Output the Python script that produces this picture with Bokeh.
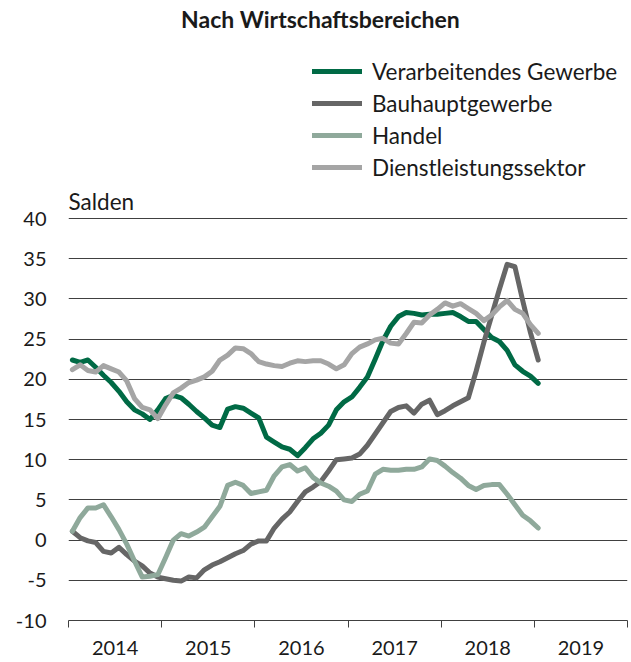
from bokeh.plotting import figure
from bokeh.models import Range1d, FixedTicker, Legend, LegendItem, Label
from bokeh.embed import file_html
from bokeh.resources import INLINE

# Monthly values, Jan 2014 .. Jan 2019 (Salden)
verarbeitendes = [22.4, 22.1, 22.4, 21.5, 20.5, 19.6, 18.5, 17.2, 16.2, 15.7, 15.0,
                  16.2, 17.6, 18.0, 17.7, 16.9, 16.0, 15.2, 14.3, 14.0, 16.3, 16.6, 16.4, 15.8,
                  15.2, 12.8, 12.2, 11.6, 11.3, 10.5, 11.5, 12.6, 13.3, 14.3, 16.2, 17.2,
                  17.8, 19.0, 20.3, 22.5, 24.8, 26.6, 27.8, 28.3, 28.2, 28.0, 28.1, 28.1,
                  28.2, 28.3, 27.8, 27.2, 27.2, 26.2, 25.2, 24.7, 23.6, 21.8, 21.0, 20.4, 19.5]
bauhaupt = [1.1, 0.3, -0.1, -0.3, -1.4, -1.6, -0.9, -1.8, -2.6, -3.2, -4.1,
            -4.6, -4.8, -5.0, -5.1, -4.6, -4.7, -3.7, -3.1, -2.7, -2.2, -1.7, -1.3, -0.5,
            -0.1, -0.1, 1.5, 2.6, 3.5, 4.8, 6.0, 6.6, 7.3, 8.6, 10.0, 10.1,
            10.2, 10.7, 11.8, 13.2, 14.6, 16.0, 16.5, 16.7, 15.8, 16.9, 17.4, 15.6,
            16.1, 16.7, 17.2, 17.7, 21.0, 24.6, 27.9, 31.2, 34.3, 34.0, 29.8, 25.8, 22.4]
handel = [1.1, 2.8, 4.0, 4.0, 4.4, 2.9, 1.3, -0.5, -2.6, -4.6, -4.5,
          -4.3, -2.2, 0.0, 0.8, 0.5, 1.0, 1.6, 2.9, 4.2, 6.8, 7.2, 6.8, 5.8,
          6.0, 6.2, 8.0, 9.1, 9.4, 8.6, 9.0, 7.8, 7.1, 6.7, 6.1, 5.0,
          4.8, 5.7, 6.1, 8.2, 8.8, 8.7, 8.7, 8.8, 8.8, 9.1, 10.1, 9.9,
          9.2, 8.4, 7.7, 6.8, 6.3, 6.8, 6.9, 6.9, 5.7, 4.4, 3.1, 2.4, 1.5]
dienstleistung = [21.2, 21.8, 21.1, 20.9, 21.7, 21.3, 20.9, 19.8, 17.6, 16.5, 16.2,
                  15.1, 16.8, 18.3, 18.9, 19.6, 19.9, 20.3, 21.0, 22.4, 23.0, 23.9, 23.8, 23.2,
                  22.2, 21.9, 21.7, 21.6, 22.0, 22.3, 22.2, 22.3, 22.3, 21.9, 21.3, 21.8,
                  23.2, 24.0, 24.4, 24.9, 25.1, 24.5, 24.4, 25.7, 27.1, 27.0, 28.0, 28.7,
                  29.5, 29.1, 29.4, 28.8, 28.2, 27.3, 28.0, 29.0, 29.8, 28.7, 28.2, 26.8, 25.7]

series_names = ["Verarbeitendes Gewerbe", "Bauhauptgewerbe", "Handel", "Dienstleistungssektor"]
series_colors = ["#006a45", "#666666", "#8fa99b", "#a5a5a5"]
years = ["2014", "2015", "2016", "2017", "2018", "2019"]
y_ticks = [-10, -5, 0, 5, 10, 15, 20, 25, 30, 35, 40]

FONT = "Lato"
TXT = "#1a1a1a"
GRID = "#404040"

x = [i + 0.5 for i in range(len(verarbeitendes))]  # mid-month positions, months since Jan 2014

# frame spans the full height above the axis so header texts/legend are not clipped;
# the value scale (-10..40 over 402 px) is kept, extra headroom above 40
FRAME_H = 620
PX_PER_UNIT = 402 / 50
y_top = -10 + FRAME_H / PX_PER_UNIT

p = figure(width=630, height=660, x_range=Range1d(0, 12 * len(years)), y_range=Range1d(-10, y_top),
           output_backend="svg", toolbar_location=None, title=None,
           min_border_left=68, min_border_right=3, min_border_top=0, min_border_bottom=40)
p.outline_line_color = None
p.background_fill_color = "white"
p.border_fill_color = "white"

p.xgrid.visible = False
p.ygrid.ticker = FixedTicker(ticks=y_ticks)
p.ygrid.grid_line_color = GRID
p.ygrid.grid_line_width = 1

# y axis
p.yaxis.ticker = FixedTicker(ticks=y_ticks)
p.yaxis.major_label_overrides = {t: str(t) for t in y_ticks}
p.yaxis.axis_line_color = None
p.yaxis.major_tick_line_color = None
p.yaxis.minor_tick_line_color = None
p.yaxis.major_tick_out = 0
p.yaxis.major_tick_in = 0
p.yaxis.major_label_standoff = 22
p.yaxis.major_label_text_font = FONT
p.yaxis.major_label_text_font_size = "20px"
p.yaxis.major_label_text_color = TXT

# x axis: labels at mid-year, tick marks at year boundaries
mid = [12 * k + 6 for k in range(len(years))]
bounds = [12 * k for k in range(len(years) + 1)]
p.xaxis.ticker = FixedTicker(ticks=mid, minor_ticks=bounds)
p.xaxis.major_label_overrides = {m: y for m, y in zip(mid, years)}
p.xaxis.axis_line_color = GRID
p.xaxis.axis_line_width = 1
p.xaxis.major_tick_line_color = None
p.xaxis.major_tick_out = 0
p.xaxis.major_tick_in = 0
p.xaxis.minor_tick_line_color = GRID
p.xaxis.minor_tick_out = 7
p.xaxis.minor_tick_in = 0
p.xaxis.major_label_standoff = 13
p.xaxis.major_label_text_font = FONT
p.xaxis.major_label_text_font_size = "20px"
p.xaxis.major_label_text_color = TXT

renderers = []
for name, vals, col in zip(series_names, [verarbeitendes, bauhaupt, handel, dienstleistung], series_colors):
    r = p.line(x, vals, line_color=col, line_width=5, line_join="round", line_cap="round")
    renderers.append(r)

legend = Legend(items=[LegendItem(label=n, renderers=[r]) for n, r in zip(series_names, renderers)],
                location=(244, 437), glyph_width=50, glyph_height=32, label_height=32,
                label_standoff=10, spacing=0, padding=0, margin=0,
                border_line_color=None, background_fill_alpha=0,
                label_text_font=FONT, label_text_font_size="22.5px", label_text_color=TXT)
p.add_layout(legend)

p.add_layout(Label(x=252, y=602, x_units="screen", y_units="screen", text="Nach Wirtschaftsbereichen",
                   text_align="center", text_baseline="middle", text_font=FONT,
                   text_font_style="bold", text_font_size="23px", text_color=TXT))
p.add_layout(Label(x=0, y=419, x_units="screen", y_units="screen", text="Salden",
                   text_align="left", text_baseline="middle", text_font=FONT,
                   text_font_size="22.5px", text_color=TXT))

open("out.html", "w").write(file_html(p, INLINE))
